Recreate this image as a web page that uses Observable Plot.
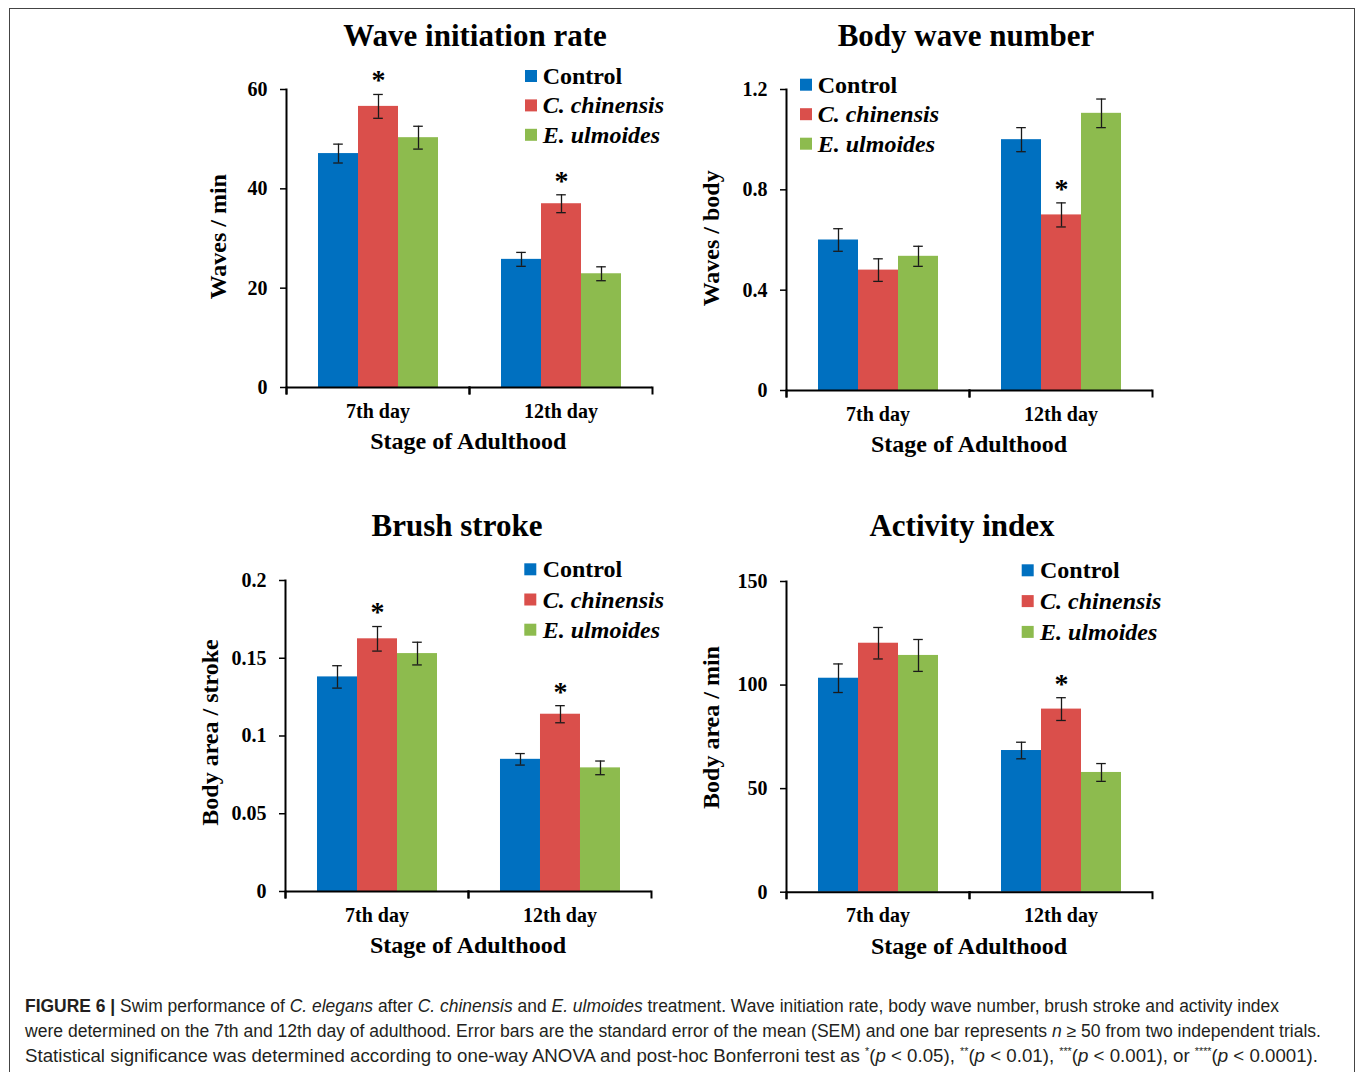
<!DOCTYPE html>
<html><head><meta charset="utf-8">
<script src="https://cdn.jsdelivr.net/npm/d3@7"></script>
<script src="https://cdn.jsdelivr.net/npm/@observablehq/plot@0.6"></script>
<style>
html,body{margin:0;padding:0;background:#fff;}
#fig{position:relative;width:1355px;height:1072px;overflow:hidden;background:#fff;}
#border{position:absolute;left:9px;top:8px;width:1346px;height:1200px;border:1.5px solid #444;box-sizing:border-box;}
.panel{position:absolute;}
#overlay{position:absolute;left:0;top:0;pointer-events:none;}
.cap{position:absolute;left:25px;white-space:nowrap;font-family:"Liberation Sans Narrow","Liberation Sans",Arial,sans-serif;font-size:17.5px;color:#231f20;transform-origin:0 0;line-height:20px;}
.cap sup{font-size:10px;line-height:0;}
</style></head>
<body><div id="fig"><div id="border"></div></div>
<script>
const groups = ["Control", "C. chinensis", "E. ulmoides"];
const days = ["7th day", "12th day"];
const colors = ["#0070C0", "#DA4F4B", "#8DBB4E"];

// order: 7th day (Control, C. chinensis, E. ulmoides), then 12th day
const waveRate = [47.1, 56.6, 50.3, 25.8, 37.0, 22.9];
const waveRateSem = [1.9, 2.4, 2.3, 1.4, 1.8, 1.4];
const waveRateSig = [0, 1, 0, 0, 1, 0];
const waveRateTicks = [0, 20, 40, 60];

const bodyWave = [0.60, 0.48, 0.535, 1.00, 0.70, 1.105];
const bodyWaveSem = [0.045, 0.045, 0.04, 0.048, 0.048, 0.057];
const bodyWaveSig = [0, 0, 0, 0, 1, 0];
const bodyWaveTicks = [0, 0.4, 0.8, 1.2];

const brush = [0.138, 0.1625, 0.153, 0.085, 0.114, 0.0795];
const brushSem = [0.0072, 0.0079, 0.0073, 0.0037, 0.0055, 0.0044];
const brushSig = [0, 1, 0, 0, 1, 0];
const brushTicks = [0, 0.05, 0.1, 0.15, 0.2];

const activity = [103.3, 120.2, 114.3, 68.4, 88.4, 57.8];
const activitySem = [6.9, 7.6, 7.7, 4.0, 5.5, 4.3];
const activitySig = [0, 0, 0, 0, 1, 0];
const activityTicks = [0, 50, 100, 150];

const titles = ["Wave initiation rate", "Body wave number", "Brush stroke", "Activity index"];
const yLabels = ["Waves / min", "Waves / body", "Body area / stroke", "Body area / min"];
const xLabel = "Stage of Adulthood";

const panels = [
  {values: waveRate, sem: waveRateSem, sig: waveRateSig, ticks: waveRateTicks,
   frame: {l: 285.7, r: 651.7, t: 89, b: 387}, titleX: 475, titleY: 46, ylabX: 226, ylabY: 236.7, xlabX: 468.3, xlabY: 449.3,
   leg: {x: 525, tx: 542.7, y: 84, dy: 29.4}},
  {values: bodyWave, sem: bodyWaveSem, sig: bodyWaveSig, ticks: bodyWaveTicks,
   frame: {l: 785.7, r: 1151.7, t: 89, b: 390}, titleX: 966, titleY: 46, ylabX: 719.3, ylabY: 238.3, xlabX: 969, xlabY: 451.7,
   leg: {x: 800, tx: 817.7, y: 92.7, dy: 29.5}},
  {values: brush, sem: brushSem, sig: brushSig, ticks: brushTicks,
   frame: {l: 285, r: 651.7, t: 580, b: 891}, titleX: 457, titleY: 536, ylabX: 217.7, ylabY: 732.5, xlabX: 468, xlabY: 953.3,
   leg: {x: 524.3, tx: 542.7, y: 577.3, dy: 30.2}},
  {values: activity, sem: activitySem, sig: activitySig, ticks: activityTicks,
   frame: {l: 785.7, r: 1151.7, t: 581, b: 891.7}, titleX: 962, titleY: 536, ylabX: 718.7, ylabY: 727.5, xlabX: 969, xlabY: 954,
   leg: {x: 1021.7, tx: 1040, y: 578.3, dy: 30.8}}
];

const serif = '"Liberation Serif", "Times New Roman", serif';
const fig = document.getElementById("fig");

panels.forEach((p) => {
  const rows = [];
  days.forEach((day, i) => groups.forEach((group, j) => {
    const k = i * groups.length + j;
    rows.push({day, group, value: p.values[k], sem: p.sem[k], sig: p.sig[k]});
  }));
  const mL = 100, mR = 25, mT = 40, mB = 60;
  const fw = p.frame.r - p.frame.l, fh = p.frame.b - p.frame.t;
  const ymax = p.ticks[p.ticks.length - 1];
  const errStyle = {stroke: "#1a1a1a", strokeWidth: 1.3};
  const chart = Plot.plot({
    width: mL + fw + mR, height: mT + fh + mB,
    marginLeft: mL, marginRight: mR, marginTop: mT, marginBottom: mB,
    style: {fontFamily: serif, fontWeight: "bold", fontSize: "20px", color: "#000", background: "transparent", overflow: "visible"},
    fx: {domain: days, padding: 0, label: null},
    x: {domain: groups, paddingInner: 0, paddingOuter: 0.76, axis: null},
    y: {domain: [0, ymax], label: null},
    color: {domain: groups, range: colors},
    marks: [
      Plot.barY(rows, {fx: "day", x: "group", y: "value", fill: "group"}),
      Plot.ruleX(rows, {fx: "day", x: "group", y1: d => d.value - d.sem, y2: d => d.value + d.sem, ...errStyle}),
      Plot.tickY(rows, {fx: "day", x: "group", y: d => d.value - d.sem, insetLeft: 15.2, insetRight: 15.2, ...errStyle}),
      Plot.tickY(rows, {fx: "day", x: "group", y: d => d.value + d.sem, insetLeft: 15.2, insetRight: 15.2, ...errStyle}),
      Plot.text(rows.filter(d => d.sig), {fx: "day", x: "group", y: d => d.value + d.sem, text: () => "*", fontSize: 28, dy: -14, fill: "#000"}),
      Plot.ruleY([0], {stroke: "#000", strokeWidth: 2}),
      Plot.frame({anchor: "left", facetAnchor: "left", stroke: "#000", strokeWidth: 2, insetBottom: -6}),
      Plot.frame({anchor: "left", stroke: "#000", strokeWidth: 2, insetTop: fh, insetBottom: -6}),
      Plot.frame({anchor: "right", stroke: "#000", strokeWidth: 2, insetTop: fh, insetBottom: -6}),
      Plot.axisY({ticks: p.ticks, tickFormat: d => String(d), tickSize: 6, tickPadding: 13, fontSize: 20, strokeWidth: 1.5, label: null}),
      Plot.axisFx({anchor: "bottom", tickSize: 0, tickPadding: 16, fontSize: 20, label: null})
    ]
  });
  const div = document.createElement("div");
  div.className = "panel";
  div.style.left = (p.frame.l - mL) + "px";
  div.style.top = (p.frame.t - mT) + "px";
  div.appendChild(chart);
  fig.appendChild(div);
});

// overlay for titles, axis titles and legends
const ov = d3.select("#fig").append("svg").attr("id", "overlay")
  .attr("width", 1355).attr("height", 1072)
  .style("font-family", serif).style("font-weight", "bold");

panels.forEach((p, i) => {
  ov.append("text").attr("x", p.titleX).attr("y", p.titleY).attr("text-anchor", "middle")
    .attr("font-size", 31).text(titles[i]);
  ov.append("text").attr("transform", `translate(${p.ylabX},${p.ylabY}) rotate(-90)`)
    .attr("text-anchor", "middle").attr("font-size", 24).text(yLabels[i]);
  ov.append("text").attr("x", p.xlabX).attr("y", p.xlabY).attr("text-anchor", "middle")
    .attr("font-size", 24).text(xLabel);
  groups.forEach((g, j) => {
    const y = p.leg.y + j * p.leg.dy;
    ov.append("rect").attr("x", p.leg.x).attr("y", y - 14).attr("width", 12).attr("height", 12).attr("fill", colors[j]);
    ov.append("text").attr("x", p.leg.tx).attr("y", y).attr("font-size", 24)
      .attr("font-style", j > 0 ? "italic" : "normal").text(g);
  });
});

// caption
const captionLines = [
  '<b>FIGURE 6 |</b> Swim performance of <i>C. elegans</i> after <i>C. chinensis</i> and <i>E. ulmoides</i> treatment. Wave initiation rate, body wave number, brush stroke and activity index',
  'were determined on the 7th and 12th day of adulthood. Error bars are the standard error of the mean (SEM) and one bar represents <i>n</i> ≥ 50 from two independent trials.',
  'Statistical significance was determined according to one-way ANOVA and post-hoc Bonferroni test as <sup>*</sup>(<i>p</i> &lt; 0.05), <sup>**</sup>(<i>p</i> &lt; 0.01), <sup>***</sup>(<i>p</i> &lt; 0.001), or <sup>****</sup>(<i>p</i> &lt; 0.0001).'
];
const captionTops = [996, 1021, 1046];
const captionWidths = [1254, 1296, 1293];
captionLines.forEach((html, i) => {
  const d = document.createElement("div");
  d.className = "cap";
  d.style.top = captionTops[i] + "px";
  d.innerHTML = html;
  fig.appendChild(d);
  const w = d.getBoundingClientRect().width;
  d.style.transform = `scaleX(${captionWidths[i] / w})`;
});
</script>
</body></html>
